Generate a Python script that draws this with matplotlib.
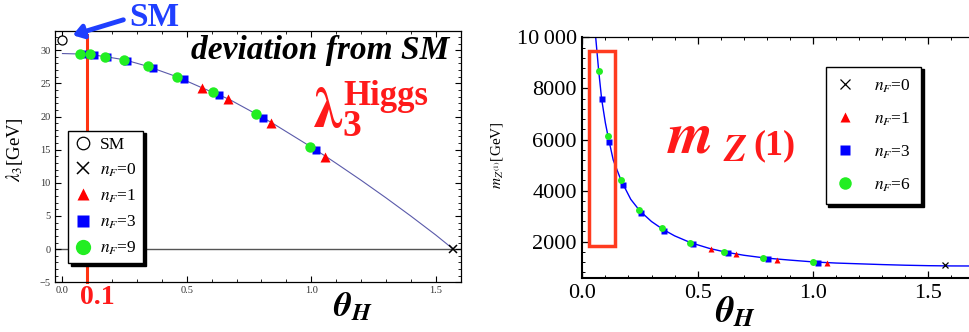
import matplotlib
matplotlib.use('Agg')
import matplotlib.pyplot as plt
from matplotlib.lines import Line2D
from matplotlib.patches import Rectangle, FancyArrowPatch
from matplotlib.ticker import MultipleLocator, FixedLocator, FixedFormatter

plt.rcParams['font.family'] = ['Liberation Serif', 'DejaVu Serif']
plt.rcParams['mathtext.fontset'] = 'stix'

# ---- left panel: lambda_3 [GeV] vs theta_H ----
lam_curve_th = [0.0, 0.1, 0.17, 0.25, 0.34, 0.46, 0.56, 0.67, 0.78, 0.84, 1.0, 1.06, 1.1, 1.2,
                1.3, 1.4, 1.5, 1.571]
lam_curve = [29.5, 29.4, 29.05, 28.55, 27.6, 26.0, 24.35, 22.6, 20.35, 19.1, 15.4, 13.95, 12.95, 10.4,
             7.75, 5.0, 2.15, 0.0]

lam_sm_th, lam_sm = [0.0], [31.5]
lam_n0_th, lam_n0 = [1.571], [0.0]
lam_n1_th = [0.560, 0.667, 0.839, 1.056]
lam_n1 = [24.35, 22.6, 19.1, 13.95]
lam_n3_th = [0.090, 0.125, 0.178, 0.259, 0.362, 0.487, 0.631, 0.806, 1.020]
lam_n3 = [29.45, 29.3, 29.0, 28.4, 27.3, 25.7, 23.2, 19.85, 14.95]
lam_n9_th = [0.071, 0.111, 0.169, 0.248, 0.342, 0.462, 0.605, 0.779, 0.996]
lam_n9 = [29.5, 29.4, 29.05, 28.6, 27.6, 26.0, 23.65, 20.35, 15.45]

lam_xticks = [0.0, 0.5, 1.0, 1.5]
lam_yticks = [-5, 0, 5, 10, 15, 20, 25, 30]

# ---- right panel: m_Z(1) [GeV] vs theta_H ----
mz_curve_th = [0.058, 0.071, 0.084, 0.100, 0.111, 0.134, 0.168, 0.21, 0.25, 0.30, 0.35, 0.40, 0.47,
               0.55, 0.62, 0.70, 0.79, 0.90, 1.00, 1.10, 1.20, 1.30, 1.40, 1.50, 1.60, 1.68]
mz_curve = [10000, 8690, 7570, 6650, 6150, 5200, 4400, 3660, 3200, 2790, 2480, 2230, 1960,
            1740, 1595, 1470, 1365, 1280, 1210, 1165, 1135, 1105, 1080, 1062, 1052, 1050]

mz_n0_th, mz_n0 = [1.571], [1090]
mz_n1_th = [0.557, 0.666, 0.843, 1.059]
mz_n1 = [1714, 1519, 1284, 1155]
mz_n3_th = [0.084, 0.117, 0.175, 0.256, 0.355, 0.481, 0.630, 0.806, 1.023]
mz_n3 = [7570, 5900, 4220, 3135, 2420, 1910, 1570, 1335, 1178]
mz_n6_th = [0.071, 0.111, 0.168, 0.247, 0.347, 0.467, 0.614, 0.785, 1.001]
mz_n6 = [8690, 6120, 4420, 3240, 2524, 1961, 1609, 1374, 1217]

mz_xticks = [0.0, 0.5, 1.0, 1.5]
mz_yticks = [2000, 4000, 6000, 8000, 10000]
mz_ytick_labels = ['2000', '4000', '6000', '8000', '10\u2009000']

RED = '#ff1a1a'
BLUE = '#0000ff'
GREEN = '#22ee22'
W, H = 969, 332


def at(x, y):
    # pixel position -> figure fraction
    return x / W, 1 - y / H


fig = plt.figure(figsize=(9.69, 3.32), dpi=100)

# ---------------- left ----------------
ax1 = fig.add_axes([55 / W, 1 - 282.3 / H, 406 / W, 251.3 / H])
ax1.set_xlim(-0.03, 1.602)
ax1.set_ylim(-5, 32.9)
ax1.axhline(0, color='#555555', lw=1.0, zorder=1)
ax1.plot(lam_curve_th, lam_curve, color='#5a5aaa', lw=0.8, zorder=2)
ax1.plot([0.1, 0.1], [32.3, -5], color='#ff3311', lw=2.2, zorder=2, clip_on=False)
ax1.plot(lam_n1_th, lam_n1, ls='none', marker='^', ms=6.5, color='red', mec='none', zorder=3)
ax1.plot(lam_n3_th, lam_n3, ls='none', marker='s', ms=6, color=BLUE, mec='none', zorder=4)
ax1.plot(lam_n9_th, lam_n9, ls='none', marker='o', ms=7.5, color=GREEN, mec='none', zorder=5)
ax1.plot(lam_n0_th, lam_n0, ls='none', marker='x', ms=6, color='black', mew=1.1, zorder=5, clip_on=False)
ax1.plot(lam_sm_th, lam_sm, ls='none', marker='o', ms=6.5, mfc='white', mec='black', mew=0.9, zorder=5)

ax1.xaxis.set_major_locator(FixedLocator(lam_xticks))
ax1.xaxis.set_minor_locator(MultipleLocator(0.1))
ax1.yaxis.set_major_locator(FixedLocator(lam_yticks))
ax1.yaxis.set_minor_locator(MultipleLocator(1))
ax1.xaxis.set_major_formatter(FixedFormatter(['%.1f' % v for v in lam_xticks]))
ax1.tick_params(which='both', direction='in', top=True, right=True, labelsize=7.5,
                labelcolor='#333333', pad=3)
ax1.tick_params(which='major', length=4, width=0.8)
ax1.tick_params(which='minor', length=2, width=0.6)
for s in ax1.spines.values():
    s.set_linewidth(0.9)
ax1.set_ylabel(r'$\lambda_3$[GeV]', fontsize=13.5)
ax1.yaxis.set_label_coords(-0.075, 0.53)

h1 = [Line2D([], [], ls='none', marker='o', ms=9, mfc='white', mec='black', mew=0.9),
      Line2D([], [], ls='none', marker='x', ms=8, color='black', mew=1.1),
      Line2D([], [], ls='none', marker='^', ms=9, color='red', mec='none'),
      Line2D([], [], ls='none', marker='s', ms=9, color=BLUE, mec='none'),
      Line2D([], [], ls='none', marker='o', ms=11, color=GREEN, mec='none')]
l1 = ['SM', r'$n_F$=0', r'$n_F$=1', r'$n_F$=3', r'$n_F$=9']
leg1 = ax1.legend(h1, l1, loc='lower left', bbox_to_anchor=(0.032, 0.076), borderaxespad=0,
                  fontsize=12.5, frameon=True, fancybox=False, edgecolor='black',
                  shadow={'color': 'black', 'alpha': 1.0}, handlelength=1.0, handletextpad=0.5,
                  labelspacing=0.5, borderpad=0.35)
leg1.get_frame().set_linewidth(1.0)
leg1.set_zorder(10)

# ---------------- right ----------------
ax2 = fig.add_axes([582.3 / W, 1 - 278.3 / H, (W - 582.3) / W, 241 / H])
ax2.set_xlim(0, 1.676)
ax2.set_ylim(568, 10000)
ax2.plot(mz_curve_th, mz_curve, color=BLUE, lw=1.0, zorder=2)
ax2.add_patch(Rectangle((0.031, 1830), 0.110, 9480 - 1830, fill=False, ec='#ff3b1f', lw=2.5, zorder=6))
ax2.plot(mz_n1_th, mz_n1, ls='none', marker='^', ms=4.5, color='red', mec='none', zorder=3)
ax2.plot(mz_n3_th, mz_n3, ls='none', marker='s', ms=4, color=BLUE, mec='none', zorder=4)
ax2.plot(mz_n6_th, mz_n6, ls='none', marker='o', ms=5, color=GREEN, mec='none', zorder=5)
ax2.plot(mz_n0_th, mz_n0, ls='none', marker='x', ms=4.5, color='black', mew=0.9, zorder=5)

ax2.xaxis.set_major_locator(FixedLocator(mz_xticks))
ax2.xaxis.set_minor_locator(MultipleLocator(0.1))
ax2.xaxis.set_major_formatter(FixedFormatter(['%.1f' % v for v in mz_xticks]))
ax2.yaxis.set_major_locator(FixedLocator(mz_yticks))
ax2.yaxis.set_major_formatter(FixedFormatter(mz_ytick_labels))
ax2.yaxis.set_minor_locator(MultipleLocator(400))
ax2.tick_params(which='both', direction='in', top=True, right=False, labelsize=16, pad=4)
ax2.tick_params(which='major', length=5, width=0.9)
ax2.tick_params(which='minor', length=2.5, width=0.7)
ax2.spines['right'].set_visible(False)
ax2.spines['left'].set_linewidth(1.5)
ax2.spines['bottom'].set_linewidth(1.5)
ax2.spines['top'].set_linewidth(0.9)
ax2.set_ylabel(r'$m_{Z^{(1)}}$[GeV]', fontsize=11)
ax2.yaxis.set_label_coords(-0.2, 0.51)

h2 = [Line2D([], [], ls='none', marker='x', ms=7, color='black', mew=0.9),
      Line2D([], [], ls='none', marker='^', ms=7, color='red', mec='none'),
      Line2D([], [], ls='none', marker='s', ms=6.5, color=BLUE, mec='none'),
      Line2D([], [], ls='none', marker='o', ms=9, color=GREEN, mec='none')]
l2 = [r'$n_F$=0', r'$n_F$=1', r'$n_F$=3', r'$n_F$=6']
leg2 = ax2.legend(h2, l2, loc='upper left', bbox_to_anchor=(0.629, 0.878), borderaxespad=0,
                  fontsize=12.5, frameon=True, fancybox=False, edgecolor='black',
                  shadow={'color': 'black', 'alpha': 1.0}, handlelength=1.0, handletextpad=1.2,
                  labelspacing=0.9, borderpad=0.6)
leg2.get_frame().set_linewidth(1.0)

# ---------------- annotations ----------------
fig.text(*at(154, 18), 'SM', color='#1f3fff', fontsize=24, fontweight='bold', ha='center', va='center')
fig.add_artist(FancyArrowPatch(at(126, 19), at(70, 36), transform=fig.transFigure,
                               arrowstyle='-|>,head_length=6,head_width=4',
                               color='#1f3fff', lw=3.5, mutation_scale=1))
fig.text(*at(320, 50), 'deviation from SM', fontsize=24, fontweight='bold', style='italic',
         ha='center', va='center')

# lambda_3^Higgs built from pieces
fig.text(*at(328, 113), r'$\boldsymbol{\lambda}$', color=RED, fontsize=40, ha='center', va='center')
fig.text(*at(352, 127), '3', color=RED, fontsize=27, fontweight='bold', ha='center', va='center')
fig.text(*at(343, 105), 'Higgs', color=RED, fontsize=25, fontweight='bold', ha='left', va='baseline')

fig.text(*at(97, 298), '0.1', color=RED, fontsize=20, fontweight='bold', ha='center', va='center')
fig.text(*at(353, 308), r'$\boldsymbol{\theta}_{\boldsymbol{H}}$', fontsize=25, ha='center', va='center')
fig.text(*at(735, 313), r'$\boldsymbol{\theta}_{\boldsymbol{H}}$', fontsize=26, ha='center', va='center')

# m_Z(1) built from pieces
fig.text(*at(690, 138), r'$\boldsymbol{m}$', color=RED, fontsize=42, ha='center', va='center')
fig.text(*at(735, 152), r'$\boldsymbol{Z}$', color=RED, fontsize=27, ha='center', va='center')
fig.text(*at(774, 146), '(1)', color=RED, fontsize=26, fontweight='bold', ha='center', va='center')

fig.savefig('out.png', dpi=100)
